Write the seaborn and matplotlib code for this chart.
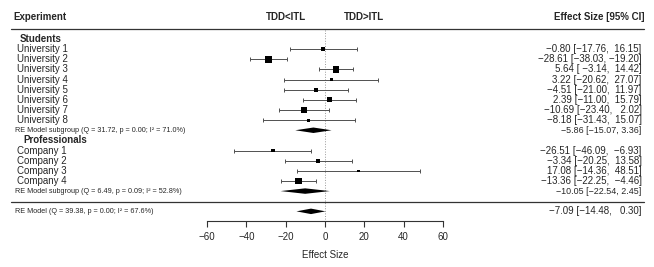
import numpy as np
import pandas as pd
import matplotlib.pyplot as plt
import seaborn as sns
from matplotlib.transforms import blended_transform_factory

sns.set_theme(style="ticks")
plt.rcParams['font.family'] = ['Liberation Sans', 'DejaVu Sans']

# data ------------------------------------------------------------
students = ["University 1", "University 2", "University 3", "University 4",
            "University 5", "University 6", "University 7", "University 8"]
stud_est = [-0.80, -28.61, 5.64, 3.22, -4.51, 2.39, -10.69, -8.18]
stud_lo = [-17.76, -38.03, -3.14, -20.62, -21.00, -11.00, -23.40, -31.43]
stud_hi = [16.15, -19.20, 14.42, 27.07, 11.97, 15.79, 2.02, 15.07]

companies = ["Company 1", "Company 2", "Company 3", "Company 4"]
comp_est = [-26.51, -3.34, 17.08, -13.36]
comp_lo = [-46.09, -20.25, -14.36, -22.25]
comp_hi = [-6.93, 13.58, 48.51, -4.46]

groups = ["Students", "Professionals"]
sub_est = [-5.86, -10.05]
sub_lo = [-15.07, -22.54]
sub_hi = [3.36, 2.45]
sub_q = [31.72, 6.49]
sub_p = [0.00, 0.09]
sub_i2 = [71.0, 52.8]

all_est, all_lo, all_hi = -7.09, -14.48, 0.30
all_q, all_p, all_i2 = 39.38, 0.00, 67.6

xticks = [-60, -40, -20, 0, 20, 40, 60]
tau2 = 60.0   # between-study variance used for the square weights

# layout (row units, top->bottom) ---------------------------------
stud_rows = np.arange(1, 9)
comp_rows = np.arange(11, 15)
sub_rows = [9, 15]
head_rows = [0, 10]
all_row = 17
axis_row = 18.0

df = pd.DataFrame({
    "label": students + companies,
    "est": stud_est + comp_est,
    "lo": stud_lo + comp_lo,
    "hi": stud_hi + comp_hi,
    "row": np.concatenate([stud_rows, comp_rows]),
})
se = (df.hi - df.lo) / (2 * 1.96)
w = 1 / (se ** 2 + tau2)
cex = 0.5 + (w - w.min()) / (w.max() - w.min())
df["s"] = (3.2 * cex) ** 2


def fmt(v, width=0):
    return f"{v:{width}.2f}".replace("-", "\u2212")


def ci_text(e, l, h, pad=True):
    if pad:
        return f"{fmt(e)} [{fmt(l, 6)}, {fmt(h, 6)}]"
    return f"{fmt(e)} [{fmt(l)}, {fmt(h)}]"


fig = plt.figure(figsize=(6.54, 2.67), dpi=100)
ax = fig.add_axes([0, 0, 1, 1])
ax.set_facecolor("none")
trans = blended_transform_factory(ax.transAxes, ax.transData)

# zero line
ax.vlines(0, -0.9, axis_row, color="#999999", lw=0.7, linestyles=":", zorder=1)

# study CIs + squares
ax.errorbar(df.est, df.row, xerr=[df.est - df.lo, df.hi - df.est], fmt="none",
            ecolor="#505050", elinewidth=0.7, capsize=1.6, capthick=0.7, zorder=2)
sns.scatterplot(data=df, x="est", y="row", marker="s", s=df["s"].values,
                color="black", edgecolor="none", linewidth=0, ax=ax, zorder=3)

# diamonds
h = 0.27
for e, l, hi_, r in zip(sub_est + [all_est], sub_lo + [all_lo], sub_hi + [all_hi],
                        sub_rows + [all_row]):
    ax.fill([l, e, hi_, e], [r, r - h, r, r + h], color="black", lw=0, zorder=3)

fs = 7
# headers
ax.text(0.021, -2.17, "Experiment", transform=trans, fontsize=fs, weight="bold",
        va="center", ha="left")
ax.text(-20, -2.17, "TDD<ITL", fontsize=fs, weight="bold", va="center", ha="center")
ax.text(20, -2.17, "TDD>ITL", fontsize=fs, weight="bold", va="center", ha="center")
ax.text(0.985, -2.17, "Effect Size [95% CI]", transform=trans, fontsize=fs,
        weight="bold", va="center", ha="right")
for yl in (-1.0, 16.1):
    ax.plot([0.017, 0.985], [yl, yl], transform=trans, color="#333333", lw=0.9)

# group headers
for g, r, x0 in zip(groups, head_rows, (0.030, 0.036)):
    ax.text(x0, r, g, transform=trans, fontsize=fs, weight="bold", va="center")

# study labels and numbers
for _, row in df.iterrows():
    ax.text(0.026, row.row, row.label, transform=trans, fontsize=fs, va="center")
    ax.text(0.981, row.row, ci_text(row.est, row.lo, row.hi), transform=trans,
            fontsize=fs, va="center", ha="right")

# subgroup summaries
for r, q, p, i2, e, l, hh in zip(sub_rows, sub_q, sub_p, sub_i2, sub_est, sub_lo, sub_hi):
    ax.text(0.023, r, f"RE Model subgroup (Q = {q:.2f}, p = {p:.2f}; I\u00b2 = {i2:.1f}%)",
            transform=trans, fontsize=5.2, va="center")
    ax.text(0.981, r, ci_text(e, l, hh, pad=False), transform=trans,
            fontsize=6.4, va="center", ha="right")

ax.text(0.023, all_row, f"RE Model (Q = {all_q:.2f}, p = {all_p:.2f}; I\u00b2 = {all_i2:.1f}%)",
        transform=trans, fontsize=5.2, va="center")
ax.text(0.981, all_row, ci_text(all_est, all_lo, all_hi), transform=trans,
        fontsize=fs, va="center", ha="right")

# axis
ax.set_xlim(-165.2, 167.3)
ax.set_ylim(22.49, -3.85)
for sp in ("top", "right", "left"):
    ax.spines[sp].set_visible(False)
ax.spines["bottom"].set_position(("data", axis_row))
ax.spines["bottom"].set_bounds(xticks[0], xticks[-1])
ax.spines["bottom"].set_color("#333333")
ax.spines["bottom"].set_linewidth(0.8)
ax.set_xticks(xticks)
ax.set_yticks([])
ax.tick_params(axis="x", direction="out", length=4.3, width=0.8, color="#333333",
               labelsize=fs, pad=3.5)
ax.set_xlabel("")
ax.set_ylabel("")
ax.text(0, 21.3, "Effect Size", fontsize=fs, ha="center", va="center")

fig.savefig("out.png", dpi=100)
